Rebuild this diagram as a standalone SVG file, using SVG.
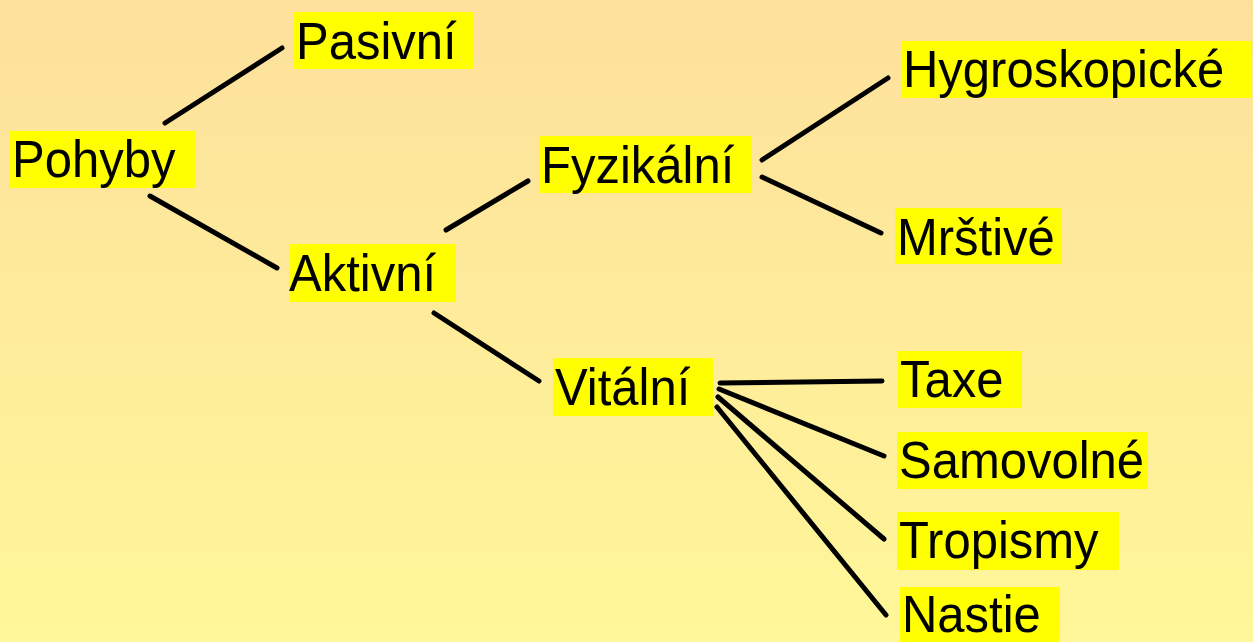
<svg xmlns="http://www.w3.org/2000/svg" width="1253" height="642" viewBox="0 0 1253 642">
<defs>
<linearGradient id="bg" x1="0" y1="0" x2="0" y2="1">
<stop offset="0" stop-color="#FDE09C"/>
<stop offset="1" stop-color="#FFF799"/>
</linearGradient>
<style>
.hl{fill:#FFFF00}
.t{font-family:"Liberation Sans",Arial,sans-serif;font-size:49px;fill:#000}
.c line{stroke:#000;stroke-width:5;stroke-linecap:round}
</style>
</defs>
<rect width="1253" height="642" fill="url(#bg)"/>
<g id="connectors" class="c">
<line x1="165" y1="123" x2="282" y2="48"/>
<line x1="150" y1="196" x2="277" y2="268"/>
<line x1="446" y1="230" x2="528" y2="181"/>
<line x1="434" y1="313" x2="539" y2="381"/>
<line x1="762" y1="160" x2="888" y2="78"/>
<line x1="762" y1="177" x2="881" y2="233"/>
<line x1="720" y1="383" x2="882" y2="381"/>
<line x1="719" y1="389" x2="884" y2="456"/>
<line x1="718" y1="397" x2="884" y2="539"/>
<line x1="717" y1="407" x2="886" y2="615"/>
</g>
<g id="pohyby"><rect class="hl" x="10" y="131" width="186" height="57"/><text class="t" transform="translate(12,177) scale(1,1.05)">Pohyby</text></g>
<g id="pasivni"><rect class="hl" x="294" y="12" width="180" height="57"/><text class="t" transform="translate(296,59) scale(1,1.05)">Pasivní</text></g>
<g id="aktivni"><rect class="hl" x="289" y="244" width="167" height="58"/><text class="t" transform="translate(289,291) scale(1,1.05)">Aktivní</text></g>
<g id="fyzikalni"><rect class="hl" x="540" y="136" width="212" height="57"/><text class="t" transform="translate(541,183) scale(1,1.05)">Fyzikální</text></g>
<g id="vitalni"><rect class="hl" x="553" y="358" width="160" height="58"/><text class="t" transform="translate(555,405) scale(1,1.05)">Vitální</text></g>
<g id="hygroskopicke"><rect class="hl" x="901" y="41" width="350" height="57"/><text class="t" transform="translate(903,87) scale(1,1.05)">Hygroskopické</text></g>
<g id="mrstive"><rect class="hl" x="895" y="208" width="167" height="56"/><text class="t" transform="translate(897,255) scale(1,1.05)">Mrštivé</text></g>
<g id="taxe"><rect class="hl" x="898" y="351" width="124" height="57"/><text class="t" transform="translate(900,397) scale(1,1.05)">Taxe</text></g>
<g id="samovolne"><rect class="hl" x="897" y="432" width="251" height="57"/><text class="t" transform="translate(899,478) scale(1,1.05)">Samovolné</text></g>
<g id="tropismy"><rect class="hl" x="897" y="512" width="222" height="58"/><text class="t" transform="translate(899,558) scale(1,1.05)">Tropismy</text></g>
<g id="nastie"><rect class="hl" x="900" y="587" width="160" height="55"/><text class="t" transform="translate(902,632) scale(1,1.05)">Nastie</text></g>
</svg>
